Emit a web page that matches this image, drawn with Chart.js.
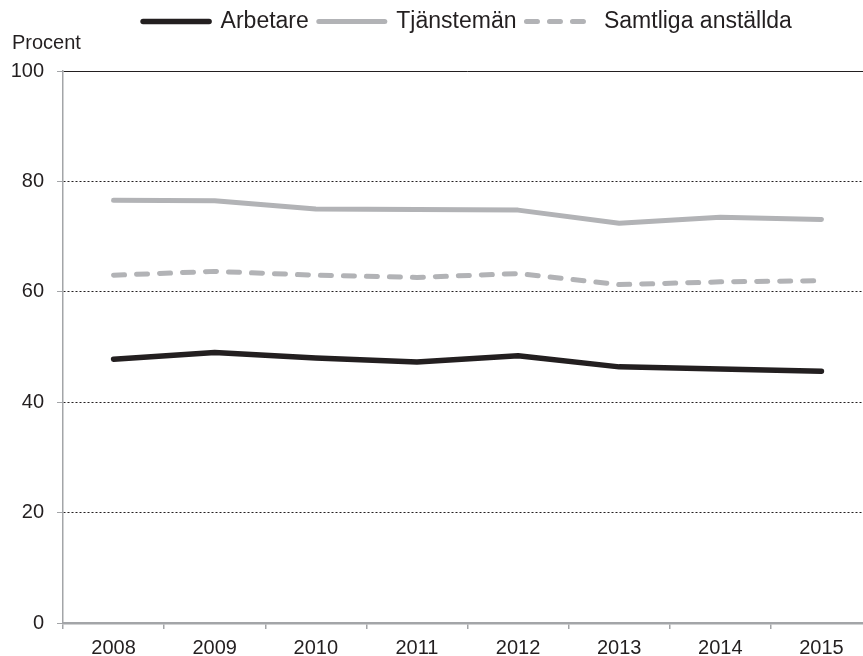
<!DOCTYPE html>
<html lang="sv">
<head>
<meta charset="utf-8">
<title>Arbetare och tjänstemän</title>
<script src="https://cdn.jsdelivr.net/npm/chart.js@4/dist/chart.umd.min.js"></script>
<style>
    html, body {
        margin: 0;
        padding: 0;
        overflow: hidden;
        background: #ffffff;
    }
    canvas {
        display: block;
    }
</style>
</head>
<body>
<canvas id="chart" width="872" height="656"></canvas>
<script>
// Data (procent)
const years = ['2008', '2009', '2010', '2011', '2012', '2013', '2014', '2015'];
const arbetare = [47.8, 49.0, 48.0, 47.3, 48.4, 46.4, 46.0, 45.6];
const tjansteman = [76.6, 76.5, 75.0, 74.9, 74.8, 72.4, 73.5, 73.1];
const samtliga = [63.0, 63.7, 63.0, 62.6, 63.3, 61.3, 61.8, 62.0];
const seriesNames = ['Arbetare', 'Tjänstemän', 'Samtliga anställda'];

const FONT = '"Liberation Sans", Arial, sans-serif';
const TEXT = '#231f20';
const DARK = '#231f20';
const GREY = '#b2b3b6';
const AXIS = '#a3a5a8';

const ctx = document.getElementById('chart').getContext('2d');

// Legendens linjer ska se ut som seriernas linjer (även streckad)
function legendLabels(chart) {
    const items = Chart.defaults.plugins.legend.labels.generateLabels(chart);
    items.forEach((item) => {
        const ds = chart.data.datasets[item.datasetIndex];
        item.strokeStyle = ds.borderColor;
        item.fillStyle = ds.borderColor;
        item.lineWidth = ds.borderWidth;
        item.lineDash = ds.borderDash || [];
        item.lineCap = 'round';
    });
    return items;
}

const chart = new Chart(ctx, {
    type: 'line',
    data: {
        labels: years,
        datasets: [
            {
                label: seriesNames[0],
                data: arbetare,
                borderColor: DARK,
                backgroundColor: DARK,
                borderWidth: 5.5
            },
            {
                label: seriesNames[1],
                data: tjansteman,
                borderColor: GREY,
                backgroundColor: GREY,
                borderWidth: 5
            },
            {
                label: seriesNames[2],
                data: samtliga,
                borderColor: GREY,
                backgroundColor: GREY,
                borderWidth: 5,
                borderDash: [11, 12]
            }
        ]
    },
    options: {
        responsive: false,
        animation: false,
        devicePixelRatio: 1,
        layout: {
            padding: { left: 12, top: 0, right: 0, bottom: 0 }
        },
        elements: {
            point: { radius: 0, hoverRadius: 0 },
            line: {
                tension: 0,
                fill: false,
                borderCapStyle: 'round',
                borderJoinStyle: 'round'
            }
        },
        plugins: {
            legend: {
                display: true,
                position: 'top',
                fullSize: false,
                labels: {
                    color: TEXT,
                    font: { family: FONT, size: 23 },
                    usePointStyle: true,
                    pointStyle: 'line',
                    pointStyleWidth: 66,
                    padding: 10,
                    generateLabels: legendLabels
                }
            },
            title: {
                display: true,
                text: 'Procent',
                position: 'top',
                align: 'start',
                weight: 500,
                color: TEXT,
                font: { family: FONT, size: 20, weight: 'normal' },
                padding: { top: -12, bottom: 16 }
            },
            tooltip: { enabled: false }
        },
        scales: {
            x: {
                type: 'category',
                offset: true,
                afterFit: (scale) => { scale.height = 33; },
                grid: {
                    display: true,
                    offset: true,
                    drawOnChartArea: false,
                    drawTicks: true,
                    tickLength: 6,
                    color: AXIS,
                    lineWidth: 1.5
                },
                border: {
                    display: true,
                    color: AXIS,
                    width: 2.5
                },
                ticks: {
                    color: TEXT,
                    font: { family: FONT, size: 20 },
                    padding: 7,
                    maxRotation: 0,
                    autoSkip: false
                }
            },
            y: {
                min: 0,
                max: 100,
                afterFit: (scale) => { scale.width = 51; },
                grid: {
                    drawTicks: true,
                    tickLength: 6,
                    tickColor: AXIS,
                    lineWidth: 1,
                    color: (c) => (c.tick && c.tick.value === 0 ? AXIS : DARK)
                },
                border: {
                    display: true,
                    color: AXIS,
                    width: 1.5,
                    dash: (c) => (c.tick && (c.tick.value === 100 || c.tick.value === 0) ? [] : [2, 2])
                },
                ticks: {
                    stepSize: 20,
                    color: TEXT,
                    font: { family: FONT, size: 20 },
                    padding: 13
                }
            }
        }
    }
});
</script>
</body>
</html>
